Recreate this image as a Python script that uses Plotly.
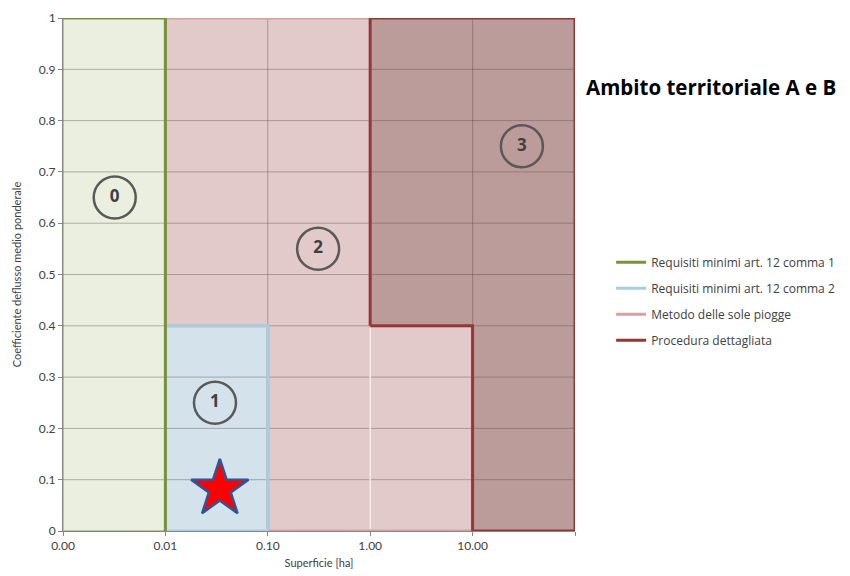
import plotly.graph_objects as go

# ---- data ----
x_ticks = [0.001, 0.01, 0.1, 1, 10, 100]
x_ticktext = ["0.00", "0.01", "0.10", "1.00", "10.00", ""]
y_ticks = [0, 0.1, 0.2, 0.3, 0.4, 0.5, 0.6, 0.7, 0.8, 0.9, 1]
y_ticktext = ["0", "0.1", "0.2", "0.3", "0.4", "0.5", "0.6", "0.7", "0.8", "0.9", "1"]

zone0_x = [0.001, 0.001, 0.01, 0.01, 0.001]
zone0_y = [0, 1, 1, 0, 0]
zone1_x = [0.01, 0.01, 0.1, 0.1, 0.01]
zone1_y = [0, 0.4, 0.4, 0, 0]
zone2_x = [0.01, 0.01, 1, 1, 10, 10, 0.1, 0.1, 0.01]
zone2_y = [0.4, 1, 1, 0.4, 0.4, 0, 0, 0.4, 0.4]
zone3_x = [1, 1, 100, 100, 10, 10, 1]
zone3_y = [0.4, 1, 1, 0, 0, 0.4, 0.4]

line0_x = [0.001, 0.01, 0.01]
line0_y = [1, 1, 0]

labels = ["0", "1", "2", "3"]
label_x = [0.0032, 0.0305, 0.31, 30.3]
label_y = [0.65, 0.25, 0.55, 0.75]

star_x = [0.034]
star_y = [0.082]

series_names = ["Requisiti minimi art. 12 comma 1", "Requisiti minimi art. 12 comma 2",
                "Metodo delle sole piogge", "Procedura dettagliata"]

FONT = "Lato, 'Open Sans', sans-serif"
FONT2 = "'Open Sans', Lato, sans-serif"

fig = go.Figure()

# fills
fill_specs = [(zone0_x, zone0_y, "#ebefe0", "#b7c694"),
              (zone1_x, zone1_y, "#d3e2eb", "#a9cde0"),
              (zone2_x, zone2_y, "#e2cacb", "#e2cacb"),
              (zone3_x, zone3_y, "#bc9c9b", "#bc9c9b")]
for fx, fy, fc, lc in fill_specs:
    fig.add_trace(go.Scatter(x=fx, y=fy, fill="toself", fillcolor=fc, mode="lines",
                             line=dict(color=lc, width=2), showlegend=False, hoverinfo="skip"))

# gridlines drawn on top of fills
gx, gy = [], []
for yv in y_ticks[1:-1]:
    gx += [x_ticks[0], x_ticks[-1], None]
    gy += [yv, yv, None]
for xv in x_ticks[1:-1]:
    gx += [xv, xv, None]
    gy += [y_ticks[0], y_ticks[-1], None]
fig.add_trace(go.Scatter(x=gx, y=gy, mode="lines", line=dict(color="rgba(90,70,70,0.40)", width=1),
                         showlegend=False, hoverinfo="skip"))
# white seam at x=1 in lower pink area
fig.add_trace(go.Scatter(x=[1, 1], y=[0, 0.4], mode="lines", line=dict(color="#f8f0f0", width=1.5),
                         showlegend=False, hoverinfo="skip"))

# border lines (legend series)
fig.add_trace(go.Scatter(x=zone2_x, y=zone2_y, mode="lines", name=series_names[2],
                         line=dict(color="#d4a2a2", width=3), legendgroup="c", legendrank=3))
fig.add_trace(go.Scatter(x=zone3_x, y=zone3_y, mode="lines", name=series_names[3],
                         line=dict(color="#953735", width=3), legendgroup="d", legendrank=4))
fig.add_trace(go.Scatter(x=zone1_x, y=zone1_y, mode="lines", name=series_names[1],
                         line=dict(color="#a9cde0", width=3), legendgroup="b", legendrank=2))
fig.add_trace(go.Scatter(x=line0_x, y=line0_y, mode="lines", name=series_names[0],
                         line=dict(color="#77933c", width=3), legendgroup="a", legendrank=1))

# circled zone labels
fig.add_trace(go.Scatter(x=label_x, y=label_y, mode="markers+text", text=labels,
                         textposition="middle center",
                         textfont=dict(family=FONT2, size=17, color="#404040", weight="bold"),
                         marker=dict(symbol="circle-open", size=42, color="#595959",
                                     line=dict(width=2.5, color="#595959")),
                         showlegend=False, hoverinfo="skip"))

# star
fig.add_trace(go.Scatter(x=star_x, y=star_y, mode="markers",
                         marker=dict(symbol="star", size=43, color="#ff0000",
                                     line=dict(width=2.5, color="#2f5597")),
                         showlegend=False, hoverinfo="skip"))

fig.add_annotation(text="<b>Ambito territoriale A e B</b>", xref="paper", yref="paper",
                   x=1.0175, y=0.8655, xanchor="left", yanchor="middle", showarrow=False,
                   font=dict(family=FONT2, size=20.5, color="#000000"))

fig.update_layout(
    width=850, height=576,
    margin=dict(l=55, r=283, t=10, b=53, autoexpand=False),
    plot_bgcolor="white", paper_bgcolor="white",
    font=dict(family=FONT, size=12, color="#404040"),
    showlegend=True,
    legend=dict(x=1.0706, y=0.552, xanchor="left", yanchor="top",
                font=dict(family=FONT2, size=12, color="#404040"),
                traceorder="grouped", tracegroupgap=7, bgcolor="rgba(0,0,0,0)"),
    xaxis=dict(type="log", range=[-3, 2], tickvals=x_ticks, ticktext=x_ticktext,
               showgrid=False, zeroline=False, showline=True, linecolor="#868686",
               ticks="outside", ticklen=4, tickcolor="#868686", automargin=False,
               tickfont=dict(size=12, color="#404040"),
               title=dict(text="Superficie [ha]", font=dict(size=11, color="#404040"), standoff=6)),
    yaxis=dict(range=[0, 1], tickvals=y_ticks, ticktext=y_ticktext,
               showgrid=False, zeroline=False, showline=True, linecolor="#868686",
               ticks="outside", ticklen=4, tickcolor="#868686", automargin=False,
               tickfont=dict(size=12, color="#404040"),
               title=dict(text="Coefficiente deflusso medio ponderale",
                          font=dict(size=11, color="#404040"), standoff=14)),
)

fig.write_html("out.html")
